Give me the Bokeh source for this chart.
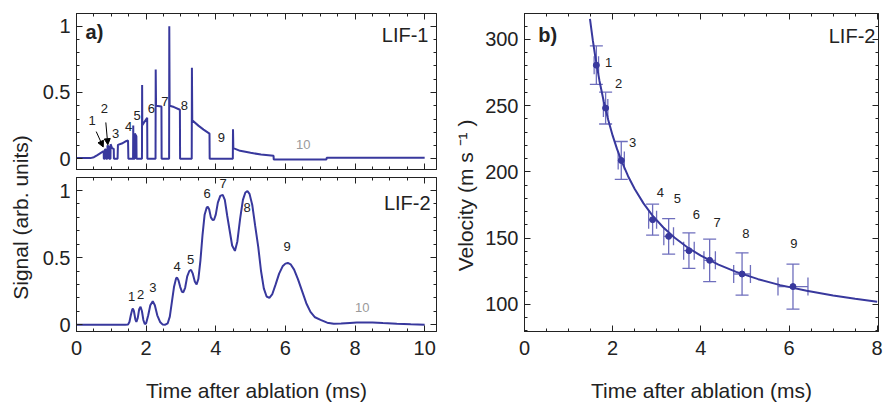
import math
from bokeh.plotting import figure
from bokeh.layouts import row, column
from bokeh.models import (LinearAxis, FixedTicker, Range1d, Label, Arrow, NormalHead,
                          Whisker, TeeHead, ColumnDataSource, CustomLabelingPolicy)
from bokeh.core.properties import value
from bokeh.embed import file_html
from bokeh.resources import INLINE

# ---------------- data ----------------
# LIF-1 (top left)
lif1_t = [0.00, 0.40, 0.50, 0.60, 0.70, 0.78, 0.785, 0.81, 0.815, 0.845, 0.85, 0.885, 0.89, 0.93,
          0.935, 0.975, 0.98, 1.02, 1.07, 1.075, 1.18, 1.19, 1.30, 1.40, 1.48, 1.49, 1.625, 1.63,
          1.635, 1.67, 1.675, 1.72, 1.725, 1.88, 1.885, 1.89, 2.03, 2.035, 2.27, 2.275, 2.285, 2.44,
          2.445, 2.66, 2.665, 2.675, 2.80, 2.97, 2.975, 3.31, 3.315, 3.325, 3.50, 3.65, 3.82, 3.825,
          4.49, 4.495, 4.505, 4.70, 5.00, 5.30, 5.66, 5.665, 7.18, 7.185, 10.0]
lif1_s = [0.005, 0.005, 0.012, 0.028, 0.045, 0.058, 0.0, 0.0, 0.07, 0.07, 0.0, 0.0, 0.10, 0.09,
          0.0, 0.0, 0.11, 0.08, 0.075, 0.0, 0.0, 0.105, 0.115, 0.13, 0.138, 0.0, 0.0, 0.25,
          0.0, 0.0, 0.19, 0.17, 0.0, 0.0, 0.556, 0.254, 0.31, 0.0, 0.0, 0.674, 0.40, 0.395,
          0.0, 0.0, 1.0, 0.40, 0.39, 0.37, 0.0, 0.0, 0.686, 0.29, 0.25, 0.22, 0.19, 0.0,
          0.0, 0.222, 0.08, 0.06, 0.045, 0.032, 0.022, -0.005, -0.005, 0.007, 0.007]

# LIF-2 (bottom left)
lif2_t = [0.00, 1.40, 1.48, 1.52, 1.56, 1.60, 1.62, 1.65, 1.69, 1.72, 1.76, 1.80, 1.84, 1.88, 1.92,
          1.96, 2.00, 2.06, 2.12, 2.19, 2.25, 2.32, 2.40, 2.47, 2.55, 2.62, 2.68, 2.74, 2.80, 2.86,
          2.89, 2.93, 2.98, 3.03, 3.07, 3.12, 3.18, 3.24, 3.29, 3.34, 3.40, 3.45, 3.50, 3.56, 3.62,
          3.68, 3.74, 3.77, 3.81, 3.86, 3.91, 3.95, 4.00, 4.06, 4.13, 4.20, 4.26, 4.33, 4.40, 4.47,
          4.55, 4.62, 4.70, 4.78, 4.85, 4.91, 4.97, 5.05, 5.13, 5.22, 5.30, 5.38, 5.46, 5.54, 5.62,
          5.72, 5.82, 5.92, 6.00, 6.07, 6.15, 6.25, 6.36, 6.48, 6.60, 6.72, 6.85, 7.01, 7.20, 7.39,
          7.60, 7.85, 8.05, 8.26, 8.50, 8.80, 9.20, 9.60, 10.00]
lif2_s = [0.0, 0.0, 0.002, 0.02, 0.07, 0.112, 0.119, 0.10, 0.04, 0.02, 0.05, 0.115, 0.133, 0.10, 0.035,
          0.005, 0.01, 0.07, 0.145, 0.174, 0.145, 0.07, 0.02, 0.002, 0.0, 0.01, 0.06, 0.17, 0.28, 0.345,
          0.351, 0.33, 0.28, 0.245, 0.242, 0.275, 0.36, 0.40, 0.409, 0.38, 0.32, 0.30, 0.34, 0.48, 0.67,
          0.82, 0.873, 0.879, 0.86, 0.80, 0.78, 0.782, 0.82, 0.91, 0.96, 0.968, 0.93, 0.81, 0.70, 0.59,
          0.55, 0.62, 0.79, 0.93, 0.985, 0.995, 0.975, 0.89, 0.74, 0.58, 0.40, 0.27, 0.21, 0.20, 0.225,
          0.30, 0.38, 0.435, 0.455, 0.46, 0.45, 0.41, 0.34, 0.25, 0.16, 0.095, 0.055, 0.036, 0.015, 0.007,
          0.008, 0.013, 0.016, 0.017, 0.016, 0.012, 0.007, 0.003, 0.0]

# velocity panel
pk_t = [1.63, 1.84, 2.195, 2.906, 3.27, 3.73, 4.20, 4.935, 6.09]
pk_v = [280.6, 248.2, 208.7, 164.0, 151.4, 140.6, 133.3, 123.0, 113.5]
pk_verr = [14.5, 12.0, 14.3, 11.7, 13.4, 13.4, 16.0, 16.0, 17.0]
pk_terr = [0.05, 0.05, 0.07, 0.09, 0.11, 0.12, 0.13, 0.19, 0.34]
fit_t = [1.485, 1.55, 1.60, 1.70, 1.80, 1.90, 2.00, 2.10, 2.20, 2.35, 2.50, 2.70, 2.90, 3.15,
         3.40, 3.70, 4.00, 4.40, 4.80, 5.30, 5.80, 6.40, 7.00, 7.50, 8.00]
fit_v = [315.6, 299.3, 288.2, 268.9, 252.8, 239.2, 227.4, 217.2, 208.3, 196.8, 187.1, 176.3,
         167.3, 158.1, 150.5, 143.0, 136.8, 130.1, 124.6, 119.1, 114.6, 110.3, 106.8, 104.3, 102.1]

# peak labels
top_lbl = ["1", "2", "3", "4", "5", "6", "7", "8", "9"]
top_lbl_t = [0.45, 0.80, 1.12, 1.50, 1.74, 2.15, 2.54, 3.10, 4.16]
top_lbl_s = [0.291, 0.378, 0.193, 0.242, 0.328, 0.383, 0.432, 0.402, 0.160]
bot_lbl = ["1", "2", "3", "4", "5", "6", "7", "8", "9"]
bot_lbl_t = [1.58, 1.84, 2.19, 2.89, 3.28, 3.755, 4.21, 4.90, 6.05]
bot_lbl_s = [0.211, 0.225, 0.278, 0.436, 0.484, 0.98, 1.053, 0.876, 0.581]
vel_lbl = ["1", "2", "3", "4", "5", "6", "7", "8", "9"]
vel_lbl_t = [1.91, 2.135, 2.45, 3.08, 3.47, 3.90, 4.37, 5.02, 6.11]
vel_lbl_v = [282.9, 266.6, 222.6, 184.8, 179.9, 167.8, 162.2, 153.9, 145.9]

time_ticks = [0, 2, 4, 6, 8, 10]
time_minor = [0.5 * i for i in range(0, 21)]
sig_ticks = [0, 0.5, 1]
sig_minor = [0.1 * i for i in range(-1, 12)]
vel_time_ticks = [0, 2, 4, 6, 8]
vel_time_minor = [0.5 * i for i in range(0, 17)]
vel_ticks = [100, 150, 200, 250, 300]
vel_minor = [10 * i for i in range(8, 33)]

FONT = "Liberation Sans"
BLUE = "#38389d"
ERRC = "#6e6ebd"
DARK = "#222222"


def make_axis(ticks, minor, labels=True):
    ax = LinearAxis(ticker=FixedTicker(ticks=ticks, minor_ticks=minor))
    ax.major_tick_in = 6
    ax.major_tick_out = 0
    ax.minor_tick_in = 3
    ax.minor_tick_out = 0
    ax.axis_line_color = DARK
    ax.major_tick_line_color = DARK
    ax.minor_tick_line_color = DARK
    ax.major_label_text_font = FONT
    ax.major_label_text_color = DARK
    if labels:
        ax.major_label_text_font_size = "20px"
        ax.major_label_standoff = 6
    else:
        # mirrored frame ticks only: no tick labels drawn
        ax.major_label_text_font_size = "1px"
        ax.major_label_standoff = 0
        ax.major_label_policy = CustomLabelingPolicy(code="if (false) { yield 0 }")
    return ax


def base_fig(w, h, xr, yr, mb):
    p = figure(width=w, height=h, x_range=xr, y_range=yr, toolbar_location=None,
               output_backend="svg", x_axis_location=None, y_axis_location=None,
               min_border_left=mb[0], min_border_right=mb[1], min_border_top=mb[2],
               min_border_bottom=mb[3])
    p.grid.visible = False
    p.outline_line_color = DARK
    p.outline_line_width = 1
    p.background_fill_color = "white"
    p.border_fill_color = "white"
    return p


def lbl(p, x, y, text, size="19px", bold=False, align="left", color=DARK):
    p.add_layout(Label(x=x, y=y, text=text, text_font=FONT, text_font_size=size,
                       text_font_style="bold" if bold else "normal", text_align=align,
                       text_baseline="middle", text_color=color))


def side_label(w, h, x, y, text, size):
    # frame spans canvas rows 13..331 (aligned with the neighbouring frames);
    # y range expressed as distance from canvas bottom
    f = figure(width=w, height=h, x_range=Range1d(0, w), y_range=Range1d(h - 331, h - 13),
               toolbar_location=None, output_backend="svg", x_axis_location=None,
               y_axis_location=None, min_border_left=0, min_border_right=0,
               min_border_top=13, min_border_bottom=73)
    f.grid.visible = False
    f.outline_line_color = None
    f.add_layout(Label(x=x, y=y, text=text, angle=math.pi / 2, text_font=FONT,
                       text_font_size=size, text_align="center", text_baseline="middle",
                       text_color=DARK))
    return f


def time_axis(ticks, minor):
    ax = make_axis(ticks, minor, True)
    ax.major_label_standoff = 9
    ax.axis_label = "Time after ablation (ms)"
    ax.axis_label_text_font = FONT
    ax.axis_label_text_font_size = "21px"
    ax.axis_label_text_font_style = "normal"
    ax.axis_label_text_color = DARK
    ax.axis_label_standoff = 21
    return ax


# ---------------- top-left: LIF-1 ----------------
p1 = base_fig(410, 173, Range1d(0, 10.34), Range1d(-0.081, 1.096), (38, 12, 13, 1))
p1.add_layout(make_axis(sig_ticks, sig_minor, True), "left")
p1.add_layout(make_axis(sig_ticks, sig_minor, False), "right")
p1.add_layout(make_axis(time_ticks, time_minor, False), "below")
p1.add_layout(make_axis(time_ticks, time_minor, False), "above")
p1.line(lif1_t, lif1_s, line_color=BLUE, line_width=2)
p1.text(x=top_lbl_t, y=top_lbl_s, text=top_lbl, text_font=value(FONT), text_font_size="13px",
        text_align="center", text_baseline="middle", text_color=DARK)
p1.text(x=[6.51], y=[0.106], text=["10"], text_font=value(FONT), text_font_size="13px",
        text_align="center", text_baseline="middle", text_color="#9a9a9a")
p1.add_layout(Arrow(x_start=0.566, y_start=0.205, x_end=0.767, y_end=0.089, line_color="black",
                    line_width=1, end=NormalHead(size=6, fill_color="black", line_color="black")))
p1.add_layout(Arrow(x_start=0.842, y_start=0.274, x_end=0.899, y_end=0.106, line_color="black",
                    line_width=1, end=NormalHead(size=6, fill_color="black", line_color="black")))
lbl(p1, 0.26, 0.955, "a)", size="20px", bold=True)
lbl(p1, 10.11, 0.933, "LIF-1", size="20px", align="right")

# ---------------- bottom-left: LIF-2 ----------------
p2 = base_fig(410, 231, p1.x_range, Range1d(-0.051, 1.097), (38, 12, 1, 72))
p2.add_layout(make_axis(sig_ticks, sig_minor, True), "left")
p2.add_layout(make_axis(sig_ticks, sig_minor, False), "right")
p2.add_layout(time_axis(time_ticks, time_minor), "below")
p2.add_layout(make_axis(time_ticks, time_minor, False), "above")
p2.line(lif2_t, lif2_s, line_color=BLUE, line_width=2)
p2.text(x=bot_lbl_t, y=bot_lbl_s, text=bot_lbl, text_font=value(FONT), text_font_size="13px",
        text_align="center", text_baseline="middle", text_color=DARK)
p2.text(x=[8.21], y=[0.126], text=["10"], text_font=value(FONT), text_font_size="13px",
        text_align="center", text_baseline="middle", text_color="#9a9a9a")
lbl(p2, 10.17, 0.908, "LIF-2", size="20px", align="right")

# ---------------- side labels ----------------
pl = side_label(38, 404, 20, 187, "Signal (arb. units)", "21px")
pv = side_label(30, 404, 17, 212, "Velocity (m  s \u207b\u00b9 )", "21px")

# ---------------- right: velocity ----------------
p3 = base_fig(405, 404, Range1d(0, 8.03), Range1d(79.6, 319.6), (46, 5, 13, 73))
p3.add_layout(make_axis(vel_ticks, vel_minor, True), "left")
p3.add_layout(make_axis(vel_ticks, vel_minor, False), "right")
p3.add_layout(time_axis(vel_time_ticks, vel_time_minor), "below")
p3.add_layout(make_axis(vel_time_ticks, vel_time_minor, False), "above")

src = ColumnDataSource(dict(
    t=pk_t, v=pk_v,
    vu=[v + e for v, e in zip(pk_v, pk_verr)], vl=[v - e for v, e in zip(pk_v, pk_verr)],
    tu=[t + e for t, e in zip(pk_t, pk_terr)], tl=[t - e for t, e in zip(pk_t, pk_terr)],
))
p3.add_layout(Whisker(source=src, base="t", upper="vu", lower="vl", dimension="height",
                      line_color=ERRC, line_width=1.3,
                      upper_head=TeeHead(size=13, line_color=ERRC, line_width=1.3),
                      lower_head=TeeHead(size=13, line_color=ERRC, line_width=1.3)))
p3.add_layout(Whisker(source=src, base="v", upper="tu", lower="tl", dimension="width",
                      line_color=ERRC, line_width=1.3,
                      upper_head=TeeHead(size=18, line_color=ERRC, line_width=1.3),
                      lower_head=TeeHead(size=18, line_color=ERRC, line_width=1.3)))
p3.line(fit_t, fit_v, line_color=BLUE, line_width=2)
p3.scatter("t", "v", source=src, size=6, color=BLUE)
p3.text(x=vel_lbl_t, y=vel_lbl_v, text=vel_lbl, text_font=value(FONT), text_font_size="13px",
        text_align="center", text_baseline="middle", text_color=DARK)
lbl(p3, 0.31, 303, "b)", size="20px", bold=True)
lbl(p3, 7.96, 302.3, "LIF-2", size="20px", align="right")

layout = row(pl, column(p1, p2, spacing=0), pv, p3, spacing=0)
open("out.html", "w").write(file_html(layout, INLINE))
